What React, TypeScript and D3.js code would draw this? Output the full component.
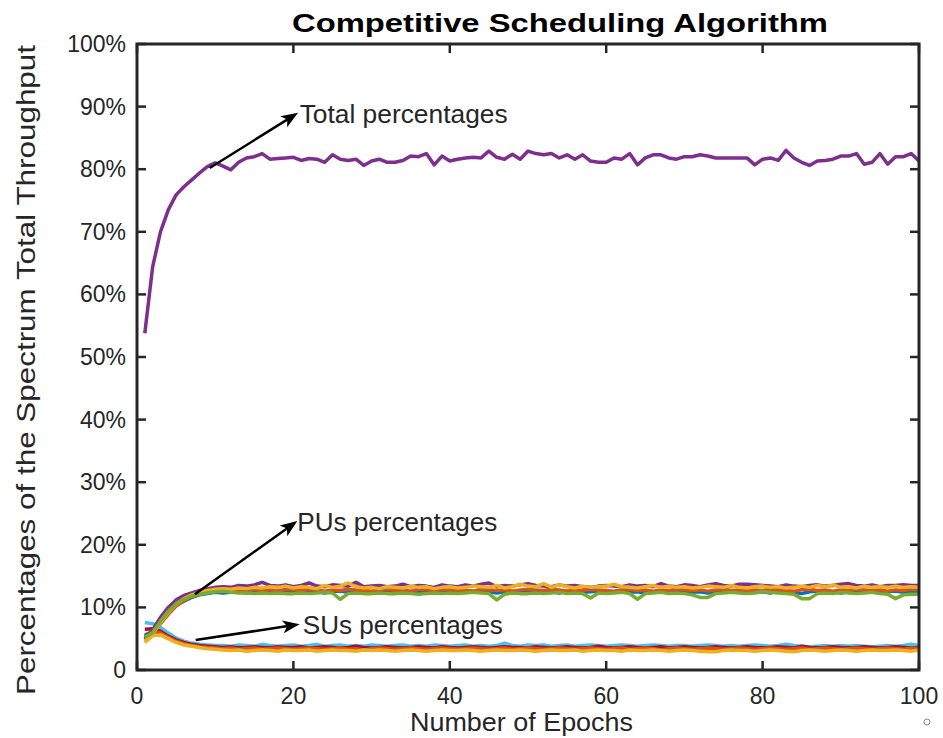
import React from "react";
import * as d3 from "d3";

const epochs: number[] = d3.range(1, 101);
const xTicks = [0, 20, 40, 60, 80, 100];
const yTicks = [0, 10, 20, 30, 40, 50, 60, 70, 80, 90, 100];
const yTickLabels = ["0", "10%", "20%", "30%", "40%", "50%", "60%", "70%", "80%", "90%", "100%"];

const totalPct = [53.8, 64.4, 70.0, 73.5, 75.9, 77.2, 78.3, 79.4, 80.4,
  81.0, 80.5, 79.9, 81.1, 81.8, 82.0, 82.5, 81.6, 81.7, 81.8,
  81.9, 81.4, 81.7, 81.6, 81.1, 82.3, 81.6, 81.4, 81.6, 80.6,
  81.3, 81.6, 81.1, 81.1, 81.4, 82.1, 82.0, 82.5, 80.7, 82.1,
  81.3, 81.6, 81.8, 81.9, 81.8, 82.9, 81.9, 81.6, 82.4, 81.6,
  82.9, 82.5, 82.3, 82.5, 81.8,
  82.3, 81.6, 82.3, 81.3, 81.1,
  81.1, 81.8, 81.6, 82.5, 80.7, 81.8, 82.3, 82.3, 81.8, 81.6,
  82.0, 82.0, 82.3, 82.1, 81.8, 81.8, 81.8, 81.8, 81.8, 80.7,
  81.6, 81.8, 81.4, 83.0, 81.8, 81.1, 80.6, 81.3, 81.4, 81.6,
  82.1, 82.1, 82.5, 80.8, 81.1, 82.5, 80.8, 82.0, 82.0, 82.5,
  81.3];

const puBlue = [5.4, 6.2, 7.7, 9.1, 10.3, 11.0, 11.6, 12.0, 12.2, 12.4,
  12.3, 12.4, 12.5, 12.3, 12.6, 12.4, 12.5, 12.6, 12.4, 12.5,
  12.6, 12.4, 12.5, 12.3, 12.5, 12.6, 12.4, 12.5, 12.6, 12.4,
  12.5, 12.3, 12.6, 12.5, 12.4, 12.6, 12.5, 12.3, 12.5, 12.6,
  12.4, 12.5, 12.6, 12.4, 12.5, 12.3, 12.5, 12.6, 12.4, 12.5,
  12.6, 12.4, 12.5, 12.3, 12.6, 12.5, 12.4, 12.5, 12.6, 12.4,
  12.5, 12.6, 12.4, 12.5, 12.3, 12.5, 12.6, 12.4, 12.5, 12.6,
  12.4, 12.5, 12.3, 12.6, 12.5, 12.4, 12.5, 12.6, 12.4, 12.5,
  12.3, 12.6, 12.5, 12.4, 12.2, 12.5, 12.6, 12.4, 12.5, 12.3,
  12.5, 12.6, 12.4, 12.5, 12.3, 12.5, 12.6, 12.4, 12.5, 12.4];

const puOrange = [4.8, 5.9, 7.4, 8.9, 10.2, 11.1, 11.7, 12.1, 12.4, 12.6,
  12.5, 12.7, 12.8, 12.6, 12.9, 12.7, 12.8, 12.6, 12.9, 12.8,
  12.7, 12.9, 12.8, 12.6, 12.8, 12.7, 12.9, 12.8, 12.7, 12.6,
  12.8, 12.9, 12.7, 12.8, 12.6, 12.9, 12.8, 12.7, 12.8, 12.9,
  12.7, 12.8, 12.6, 12.9, 12.8, 12.7, 12.8, 12.6, 12.8, 12.9,
  12.8, 12.7, 12.9, 12.8, 12.6, 12.8, 12.7, 12.9, 12.8, 12.7,
  12.6, 12.8, 12.9, 12.7, 12.8, 12.6, 12.8, 12.7, 12.9, 12.8,
  12.7, 12.8, 12.6, 12.8, 12.9, 12.7, 12.8, 12.6, 12.8, 12.7,
  12.9, 12.8, 12.7, 12.6, 12.8, 12.9, 12.7, 12.8, 12.6, 12.8,
  12.7, 12.9, 12.8, 12.7, 12.8, 12.6, 12.8, 12.7, 12.9, 12.8];

const puPurple = [5.0, 6.4, 8.4, 10.0, 11.2, 11.9, 12.3, 12.7, 13.0, 13.2,
  13.3, 13.2, 13.5, 13.4, 13.6, 14.0, 13.5, 13.4, 13.6, 13.3,
  13.5, 13.9, 13.4, 13.3, 13.6, 13.5, 13.4, 14.0, 13.3, 13.4,
  13.5, 13.3, 13.4, 13.7, 13.3, 13.5, 13.4, 13.2, 13.6, 13.4,
  13.3, 13.6, 13.4, 13.7, 13.9, 13.3, 13.5, 13.4, 13.6, 13.8,
  13.5, 13.4, 13.3, 13.6, 13.4, 13.5, 13.3, 13.2, 13.4, 13.5,
  13.4, 13.3, 13.6, 13.4, 13.5, 13.3, 13.8, 13.4, 13.3, 13.6,
  13.5, 13.3, 13.6, 13.8, 13.5, 13.4, 13.7, 13.7, 13.6, 13.5,
  13.4, 13.3, 13.6, 13.4, 13.3, 13.5, 13.6, 13.4, 13.5, 13.7,
  13.8, 13.5, 13.4, 13.6, 13.3, 13.5, 13.5, 13.6, 13.5, 13.5];

const puYellow = [4.6, 5.8, 7.6, 9.2, 10.5, 11.4, 12.0, 12.4, 12.7, 12.9,
  13.0, 12.9, 13.1, 13.0, 13.2, 13.1, 13.3, 13.2, 13.4, 13.1,
  13.3, 13.2, 13.0, 13.5, 13.2, 13.4, 13.9, 13.3, 13.1, 13.2,
  13.0, 13.3, 13.2, 13.1, 13.4, 13.2, 13.3, 13.0, 13.2, 13.3,
  13.1, 13.2, 13.4, 13.3, 13.2, 13.5, 13.1, 13.3, 13.7, 13.4,
  13.3, 13.8, 13.2, 13.6, 13.3, 13.1, 13.4, 13.2, 13.3, 13.4,
  13.7, 13.3, 13.2, 13.1, 13.3, 13.5, 13.2, 13.4, 13.2, 13.3,
  13.1, 13.2, 13.4, 13.3, 13.2, 13.5, 13.2, 13.1, 13.3, 13.4,
  13.2, 13.3, 13.1, 13.2, 13.4, 13.2, 13.5, 13.3, 13.6, 13.2,
  13.3, 13.1, 13.4, 13.2, 13.3, 13.2, 13.4, 13.2, 13.3, 13.2];

const puGreen = [5.2, 6.0, 7.8, 9.4, 10.6, 11.3, 11.8, 12.1, 12.3, 12.5,
  12.6, 12.4, 12.3, 12.3, 12.2, 12.3, 12.2, 12.3, 12.2, 12.2,
  12.3, 12.2, 12.3, 12.4, 12.3, 11.3, 12.2, 12.3, 12.2, 12.2,
  12.3, 12.2, 12.2, 12.3, 12.2, 12.1, 12.2, 12.3, 12.2, 12.3,
  12.2, 12.3, 12.4, 12.3, 12.2, 11.2, 12.1, 12.3, 12.2, 12.2,
  12.3, 12.2, 12.3, 12.4, 12.2, 12.3, 12.2, 11.5, 12.3, 12.2,
  12.3, 12.4, 12.2, 11.3, 12.2, 12.3, 12.4, 12.2, 12.3, 12.2,
  12.0, 11.6, 11.6, 12.2, 12.3, 12.4, 12.3, 12.2, 12.3, 12.5,
  12.4, 12.3, 12.2, 12.1, 11.4, 11.4, 12.2, 12.3, 12.2, 12.4,
  12.3, 12.2, 12.3, 12.4, 12.2, 12.1, 11.4, 12.0, 12.1, 12.1];

const suLightBlue = [7.6, 7.4, 6.8, 5.9, 5.1, 4.6, 4.3, 4.1, 4.0, 3.9,
  3.9, 3.8, 4.0, 3.9, 3.8, 4.1, 3.9, 3.8, 3.9, 4.0,
  3.8, 3.9, 4.1, 3.8, 3.9, 4.0, 3.8, 3.9, 3.8, 4.0,
  3.9, 3.8, 3.9, 4.0, 3.8, 3.9, 3.8, 4.0, 3.9, 3.8,
  3.9, 4.0, 3.8, 3.9, 3.8, 3.9, 4.3, 3.9, 3.8, 4.0,
  3.9, 4.0, 3.8, 3.9, 4.0, 3.8, 3.9, 4.0, 3.9, 3.8,
  3.9, 4.0, 3.9, 3.8, 3.9, 4.0, 3.9, 3.8, 3.9, 3.9,
  3.8, 3.9, 4.0, 3.9, 3.8, 3.9, 3.8, 3.9, 4.0, 3.9,
  3.8, 3.9, 4.1, 3.9, 3.8, 3.7, 3.8, 3.9, 3.8, 3.9,
  3.8, 3.9, 3.8, 3.7, 3.8, 3.9, 3.8, 3.9, 4.1, 3.9];

const suBlue = [5.0, 5.8, 5.7, 5.1, 4.6, 4.2, 4.0, 3.8, 3.6, 3.5,
  3.5, 3.4, 3.6, 3.5, 3.4, 3.5, 3.6, 3.4, 3.5, 3.5,
  3.6, 3.4, 3.5, 3.5, 3.6, 3.4, 3.5, 3.6, 3.5, 3.4,
  3.5, 3.6, 3.4, 3.5, 3.5, 3.6, 3.4, 3.5, 3.6, 3.5,
  3.4, 3.5, 3.6, 3.5, 3.4, 3.5, 3.6, 3.5, 3.4, 3.5,
  3.5, 3.6, 3.4, 3.5, 3.6, 3.5, 3.4, 3.5, 3.6, 3.5,
  3.4, 3.5, 3.6, 3.5, 3.5, 3.4, 3.6, 3.5, 3.4, 3.5,
  3.6, 3.5, 3.4, 3.5, 3.6, 3.5, 3.4, 3.5, 3.5, 3.6,
  3.4, 3.5, 3.6, 3.5, 3.2, 3.5, 3.6, 3.4, 3.5, 3.5,
  3.6, 3.4, 3.5, 3.6, 3.5, 3.4, 3.5, 3.6, 3.5, 3.5];

const suDarkRed = [6.5, 6.6, 6.2, 5.4, 4.8, 4.4, 4.1, 3.9, 3.8, 3.7,
  3.6, 3.7, 3.5, 3.6, 3.7, 3.6, 3.5, 3.7, 3.6, 3.6,
  3.7, 3.5, 3.6, 3.7, 3.6, 3.5, 3.6, 3.8, 3.6, 3.5,
  3.6, 3.7, 3.6, 3.5, 3.6, 3.7, 3.6, 3.5, 3.7, 3.6,
  3.5, 3.6, 3.7, 3.6, 3.5, 3.6, 3.7, 3.6, 3.6, 3.5,
  3.7, 3.6, 3.5, 3.6, 3.7, 3.6, 3.5, 3.6, 3.8, 3.6,
  3.5, 3.6, 3.7, 3.6, 3.5, 3.6, 3.7, 3.5, 3.6, 3.7,
  3.6, 3.5, 3.6, 3.7, 3.6, 3.5, 3.6, 3.7, 3.6, 3.5,
  3.6, 3.7, 3.6, 3.5, 3.8, 3.6, 3.5, 3.6, 3.7, 3.6,
  3.5, 3.6, 3.7, 3.6, 3.5, 3.6, 3.7, 3.6, 3.5, 3.6];

const suOrange = [5.6, 6.1, 5.9, 5.2, 4.6, 4.2, 3.9, 3.7, 3.6, 3.5,
  3.4, 3.5, 3.3, 3.4, 3.5, 3.3, 3.4, 3.5, 3.4, 3.3,
  3.4, 3.5, 3.4, 3.3, 3.4, 3.5, 3.3, 3.4, 3.2, 3.4,
  3.5, 3.4, 3.3, 3.4, 3.5, 3.4, 3.3, 3.4, 3.5, 3.4,
  3.3, 3.4, 3.5, 3.4, 3.3, 3.4, 3.5, 3.3, 3.4, 3.5,
  3.4, 3.3, 3.4, 3.5, 3.4, 3.3, 3.4, 3.5, 3.4, 3.3,
  3.4, 3.5, 3.3, 3.4, 3.5, 3.4, 3.2, 3.4, 3.5, 3.4,
  3.3, 3.4, 3.5, 3.4, 3.3, 3.4, 3.5, 3.4, 3.3, 3.4,
  3.5, 3.4, 3.3, 3.4, 3.5, 3.3, 3.4, 3.5, 3.4, 3.3,
  3.4, 3.5, 3.4, 3.3, 3.4, 3.5, 3.4, 3.3, 3.5, 3.4];

const suYellow = [4.4, 5.5, 5.6, 5.0, 4.4, 4.0, 3.8, 3.6, 3.4, 3.3,
  3.2, 3.1, 3.2, 3.0, 3.1, 3.2, 3.1, 3.0, 3.2, 3.1,
  3.1, 3.2, 3.0, 3.1, 3.2, 3.1, 3.1, 3.0, 3.2, 3.1,
  3.2, 3.1, 3.0, 3.1, 3.2, 3.1, 3.0, 3.1, 3.2, 3.1,
  3.1, 3.2, 3.1, 3.0, 3.1, 3.2, 3.1, 3.1, 3.2, 3.1,
  3.0, 3.1, 3.2, 3.1, 3.1, 3.2, 3.0, 3.1, 3.2, 3.1,
  3.1, 3.0, 3.2, 3.1, 3.1, 3.2, 3.1, 3.0, 3.1, 3.2,
  3.1, 3.0, 2.9, 2.9, 3.1, 3.2, 3.1, 3.1, 3.0, 3.1,
  3.2, 3.1, 3.0, 2.9, 3.1, 3.2, 3.1, 3.0, 3.1, 3.2,
  3.1, 3.0, 3.1, 3.2, 3.1, 3.1, 3.2, 3.1, 3.0, 3.2];

const seriesList: { values: number[]; color: string }[] = [
  { values: suLightBlue, color: "#4DBEEE" },
  { values: suBlue, color: "#0072BD" },
  { values: suDarkRed, color: "#A2142F" },
  { values: suOrange, color: "#D95319" },
  { values: suYellow, color: "#EDB120" },
  { values: puBlue, color: "#0072BD" },
  { values: puOrange, color: "#D95319" },
  { values: puPurple, color: "#7E2F8E" },
  { values: puYellow, color: "#EDB120" },
  { values: puGreen, color: "#77AC30" },
  { values: totalPct, color: "#7E2F8E" },
];

// annotations in data coordinates
const annotations = [
  { text: "Total percentages", tail: [9.3, 80.2], tip: [20.6, 89.0], at: [20.8, 87.4], len: 208 },
  { text: "PUs percentages", tail: [7.4, 12.1], tip: [20.5, 23.8], at: [20.5, 22.2], len: 200 },
  { text: "SUs percentages", tail: [7.5, 4.8], tip: [20.8, 7.3], at: [21.2, 5.75], len: 200 },
];

const W = 943, H = 738;
const left = 137, right = 919, top = 44, bottom = 670;
const FONT = "'Liberation Sans', Arial, Helvetica, sans-serif";
const AX = "#262626";

export default function App() {
  const x = d3.scaleLinear().domain([0, 100]).range([left, right]);
  const y = d3.scaleLinear().domain([0, 100]).range([bottom, top]);
  const line = d3.line<number>().x((_, i) => x(epochs[i])).y((v) => y(v));
  const tick = 9;

  return (
    <svg width={W} height={H} style={{ position: "absolute", left: 0, top: 0, background: "#fff" }} fontFamily={FONT}>
      <rect x={0} y={0} width={W} height={H} fill="#fff" />
      {seriesList.map((s, i) => (
        <path key={i} d={line(s.values) || ""} fill="none" stroke={s.color} strokeWidth={3.5} strokeLinejoin="round" />
      ))}
      <rect x={left} y={top} width={right - left} height={bottom - top} fill="none" stroke={AX} strokeWidth={3} />
      {xTicks.map((t) => (
        <g key={"x" + t}>
          <line x1={x(t)} x2={x(t)} y1={bottom} y2={bottom - tick} stroke={AX} strokeWidth={2.5} />
          <line x1={x(t)} x2={x(t)} y1={top} y2={top + tick} stroke={AX} strokeWidth={2.5} />
          <text x={x(t)} y={704} textAnchor="middle" fontSize={23} fill={AX}>{t}</text>
        </g>
      ))}
      {yTicks.map((t, i) => (
        <g key={"y" + t}>
          <line x1={left} x2={left + tick} y1={y(t)} y2={y(t)} stroke={AX} strokeWidth={2.5} />
          <line x1={right} x2={right - tick} y1={y(t)} y2={y(t)} stroke={AX} strokeWidth={2.5} />
          <text x={126} y={y(t) + 8} textAnchor="end" fontSize={23} fill={AX}>{yTickLabels[i]}</text>
        </g>
      ))}
      {annotations.map((a, i) => {
        const x1 = x(a.tail[0]), y1 = y(a.tail[1]);
        const x2 = x(a.tip[0]), y2 = y(a.tip[1]);
        const dx = x2 - x1, dy = y2 - y1;
        const L = Math.hypot(dx, dy);
        const ux = dx / L, uy = dy / L;
        const hl = 17, hw = 6.5;
        const bx = x2 - ux * hl, by = y2 - uy * hl;
        const pts = [
          [x2, y2],
          [bx - uy * hw, by + ux * hw],
          [x2 - ux * hl * 0.75, y2 - uy * hl * 0.75],
          [bx + uy * hw, by - ux * hw],
        ].map((p) => p.join(",")).join(" ");
        return (
          <g key={"a" + i}>
            <line x1={x1} y1={y1} x2={x2 - ux * hl * 0.7} y2={y2 - uy * hl * 0.7} stroke="#000" strokeWidth={2.5} />
            <polygon points={pts} fill="#000" />
            <text x={x(a.at[0])} y={y(a.at[1])} fontSize={25} fill={AX} textLength={a.len} lengthAdjust="spacingAndGlyphs">{a.text}</text>
          </g>
        );
      })}
      <text x={292} y={32} fontSize={26} fontWeight="bold" fill="#000" textLength={536} lengthAdjust="spacingAndGlyphs">Competitive Scheduling Algorithm</text>
      <text x={410} y={731} fontSize={26} fill={AX} textLength={223} lengthAdjust="spacingAndGlyphs">Number of Epochs</text>
      <text transform="translate(35,695) rotate(-90)" x={0} y={0} fontSize={26} fill={AX} textLength={650} lengthAdjust="spacingAndGlyphs">Percentages of the Spectrum Total Throughput</text>
      <circle cx={927} cy={722} r={3} fill="none" stroke="#888" strokeWidth={1} />
    </svg>
  );
}
